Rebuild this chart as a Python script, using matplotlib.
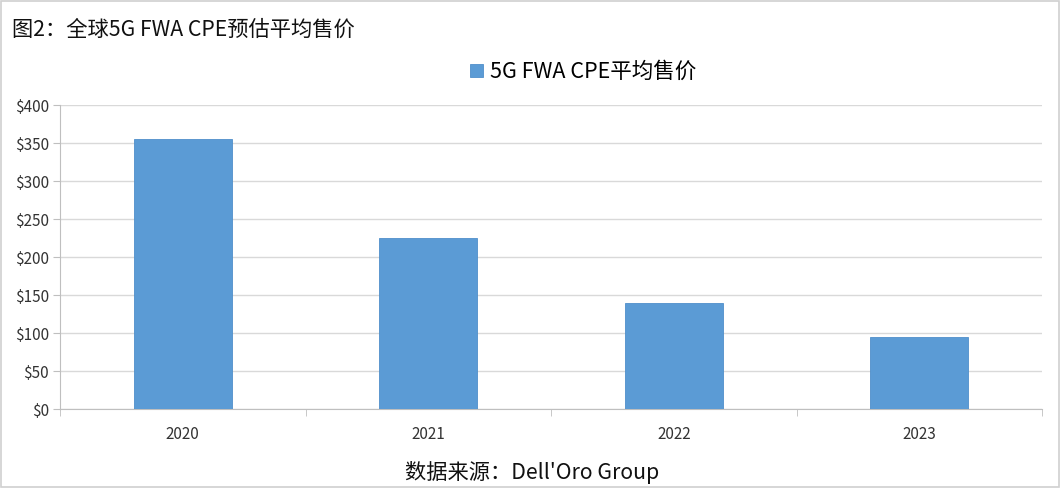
import matplotlib.pyplot as plt
from matplotlib.patches import Rectangle

plt.rcParams['font.family'] = ['Noto Sans CJK SC', 'DejaVu Sans']

years = ["2020", "2021", "2022", "2023"]
prices = [355, 225, 140, 95]
yticks = [0, 50, 100, 150, 200, 250, 300, 350, 400]

fig = plt.figure(figsize=(10.63, 5.0), dpi=100)
ax = fig.add_axes([60 / 1063, 91 / 500, 982 / 1063, 304 / 500])

x = list(range(len(years)))
ax.bar(x, prices, width=0.4, color="#5b9bd5", edgecolor="#4f8fca", linewidth=0.6,
       label="5G FWA CPE平均售价", zorder=3)

ax.set_xlim(-0.5, len(years) - 0.5)
ax.set_ylim(0, 400)
ax.set_yticks(yticks)
ax.set_yticklabels([f"${v}" for v in yticks], fontsize=11, color="#333333")
ax.set_xticks(x)
ax.set_xticklabels(years, fontsize=11, color="#333333")
ax.set_xticks([i - 0.5 for i in range(len(years) + 1)], minor=True)
ax.tick_params(axis="x", which="major", length=0, pad=12)
ax.tick_params(axis="x", which="minor", length=5, color="#bfbfbf")
ax.tick_params(axis="y", length=5, color="#bfbfbf", pad=3)

ax.grid(axis="y", color="#d9d9d9", linewidth=1, zorder=0)
for s in ["top", "right"]:
    ax.spines[s].set_visible(False)
ax.spines["left"].set_color("#bfbfbf")
ax.spines["bottom"].set_color("#bfbfbf")

leg = fig.legend(loc="center", bbox_to_anchor=(583 / 1063, 1 - 72 / 500), frameon=False,
                 fontsize=15.5, handlelength=0.6, handleheight=0.6, handletextpad=0.3)

fig.text(12 / 1063, 1 - 30 / 500, "图2：全球5G FWA CPE预估平均售价", fontsize=15.3,
         va="center", ha="left", color="#111111")
fig.text(532 / 1063, 1 - 473 / 500, "数据来源：Dell'Oro Group", fontsize=15.3,
         va="center", ha="center", color="#111111")

fig.patches.append(Rectangle((1 / 1063, 13 / 500), 1058 / 1063, 486 / 500,
                             transform=fig.transFigure, fill=False,
                             edgecolor="#d0d0d0", linewidth=1.2))

fig.savefig("out.png", dpi=100)
